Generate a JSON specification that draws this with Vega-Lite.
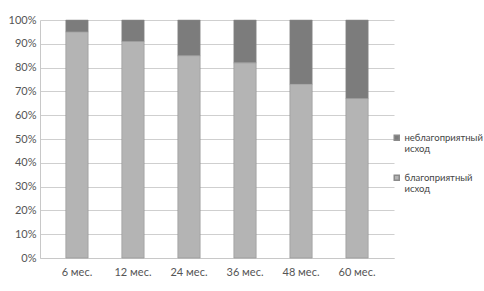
{
  "$schema": "https://vega.github.io/schema/vega-lite/v6.json",
  "autosize": {"type": "none"},
  "width": 354,
  "height": 238,
  "padding": {"left": 40, "top": 20, "right": 90, "bottom": 33},
  "background": "white",
  "data": {
    "values": [
      {"period": "6 мес.", "outcome": "неблагоприятный исход", "value": 5},
      {"period": "6 мес.", "outcome": "благоприятный исход", "value": 95},
      {"period": "12 мес.", "outcome": "неблагоприятный исход", "value": 9},
      {"period": "12 мес.", "outcome": "благоприятный исход", "value": 91},
      {"period": "24 мес.", "outcome": "неблагоприятный исход", "value": 15},
      {"period": "24 мес.", "outcome": "благоприятный исход", "value": 85},
      {"period": "36 мес.", "outcome": "неблагоприятный исход", "value": 18},
      {"period": "36 мес.", "outcome": "благоприятный исход", "value": 82},
      {"period": "48 мес.", "outcome": "неблагоприятный исход", "value": 27},
      {"period": "48 мес.", "outcome": "благоприятный исход", "value": 73},
      {"period": "60 мес.", "outcome": "неблагоприятный исход", "value": 33},
      {"period": "60 мес.", "outcome": "благоприятный исход", "value": 67}
    ]
  },
  "mark": {"type": "bar", "stroke": "#8a8a8a", "strokeWidth": 0.5},
  "encoding": {
    "x": {
      "field": "period", "type": "nominal", "sort": null,
      "scale": {"paddingInner": 0.6, "paddingOuter": 0.46},
      "axis": {"title": null, "labelAngle": 0, "labelFont": "Lato", "labelFontSize": 11, "labelColor": "#555", "ticks": false, "domainColor": "#c8c8c8", "labelPadding": 8}
    },
    "y": {
      "field": "value", "type": "quantitative", "stack": "normalize",
      "scale": {"domain": [0, 1]},
      "axis": {"title": null, "format": "%", "values": [0,0.1,0.2,0.3,0.4,0.5,0.6,0.7,0.8,0.9,1], "labelFont": "Lato", "labelFontSize": 11, "labelColor": "#555", "ticks": false, "domainColor": "#c8c8c8", "gridColor": "#cfcfcf", "labelPadding": 4}
    },
    "color": {
      "field": "outcome", "type": "nominal",
      "scale": {"domain": ["неблагоприятный исход", "благоприятный исход"], "range": ["#7c7c7c", "#b4b4b4"]},
      "legend": {"title": null, "orient": "none", "legendX": 352, "legendY": 113, "symbolType": "square", "symbolSize": 25, "symbolOffset": 0, "labelOffset": 3, "labelFont": "Lato", "labelFontSize": 9.5, "labelColor": "#444", "labelExpr": "split(datum.label, ' ')", "rowPadding": 18, "labelLimit": 0}
    },
    "order": {"field": "outcome", "sort": "ascending"}
  },
  "config": {"view": {"stroke": null}}
}
